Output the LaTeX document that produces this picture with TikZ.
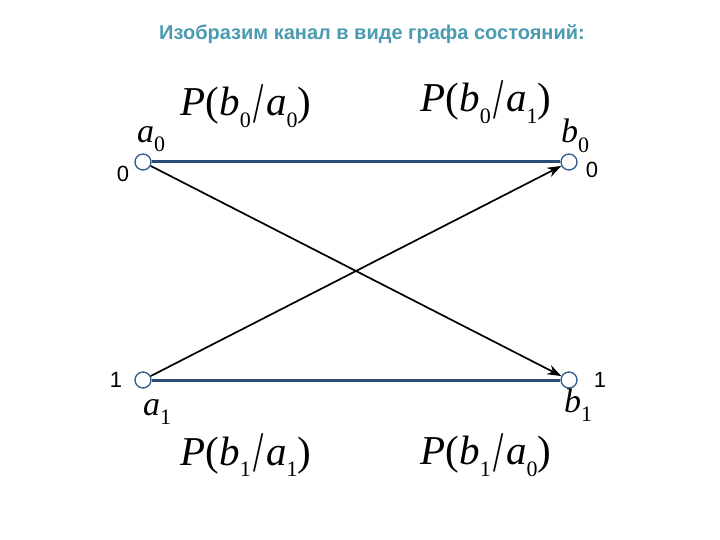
\documentclass[tikz,border=0pt]{standalone}
\usepackage{fontspec}
\setmainfont{Liberation Serif}
\setsansfont{Liberation Sans}
\usetikzlibrary{arrows.meta}
\definecolor{titlec}{RGB}{74,155,176}
\definecolor{linec}{RGB}{40,75,120}
\definecolor{circc}{RGB}{45,90,140}
\newcommand{\sbs}[1]{\raisebox{-0.28em}{\upshape\fontsize{22}{22}\selectfont #1}}
\newcommand{\slsh}{\raisebox{-0.15em}{\scalebox{0.9}[1.4]{/}}}
\newcommand{\prob}[2]{\textit{P}(\textit{b}\sbs{#1}\kern3pt\slsh\kern2pt\textit{a}\sbs{#2})}
\begin{document}
\begin{tikzpicture}[x=1pt,y=-1pt,
  state/.style={circle,draw=circc,fill=white,line width=1.3pt,minimum size=16pt,inner sep=0pt},
  hline/.style={linec,line width=3pt},
  dline/.style={black,line width=1.7pt,-{Stealth[length=14pt,width=10pt]}},
  plabel/.style={font=\fontsize{41}{41}\selectfont,inner sep=0pt},
  vlabel/.style={font=\fontsize{34}{34}\selectfont\itshape,inner sep=0pt},
  num/.style={font=\sffamily\fontsize{22}{22}\selectfont,inner sep=0pt}]
\useasboundingbox (0,0) rectangle (720,540);
\node[font=\sffamily\bfseries\fontsize{20}{20}\selectfont,text=titlec] (title) at (372,34) {Изобразим канал в виде графа состояний:};
\node[state] (a0) at (143,162) {};
\node[state] (b0) at (569,162) {};
\node[state] (a1) at (143,380) {};
\node[state] (b1) at (569,380) {};
\draw[hline] (a0) -- (b0);
\draw[hline] (a1) -- (b1);
\draw[dline] (a0) -- (b1);
\draw[dline] (a1) -- (b0);
\node[plabel] (p00) at (246,106) {\prob{0}{0}};
\node[plabel] (p01) at (486,102) {\prob{0}{1}};
\node[plabel] (p11) at (246,455) {\prob{1}{1}};
\node[plabel] (p10) at (486,455) {\prob{1}{0}};
\node[vlabel] (la0) at (151,139) {a\sbs{0}};
\node[vlabel] (lb0) at (575,136) {b\sbs{0}};
\node[vlabel] (la1) at (157,412) {a\sbs{1}};
\node[vlabel] (lb1) at (578,405) {b\sbs{1}};
\node[num] (n0l) at (123,174) {0};
\node[num] (n0r) at (592,170) {0};
\node[num] (n1l) at (116,380) {1};
\node[num] (n1r) at (600,380) {1};
\end{tikzpicture}
\end{document}
